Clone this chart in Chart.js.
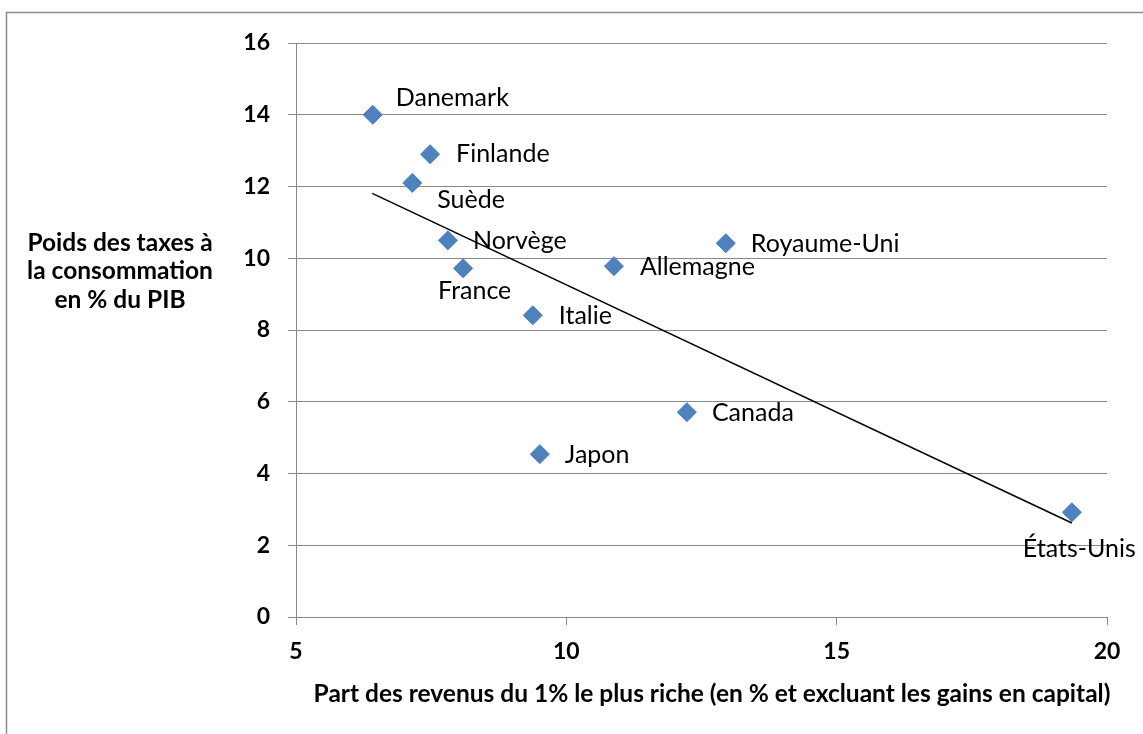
<!DOCTYPE html>
<html>
<head>
<meta charset="utf-8">
<script src="https://cdn.jsdelivr.net/npm/chart.js@4.4.0/dist/chart.umd.min.js"></script>
<style>
  html, body { margin: 0; padding: 0; background: #fff; }
  #wrap { width: 1143px; height: 734px; }
</style>
</head>
<body>
<div id="wrap"><canvas id="chart" width="1143" height="734"></canvas></div>
<script>
// Data
const countries = ["Danemark", "Finlande", "Suède", "Norvège", "France", "Italie",
                   "Allemagne", "Royaume-Uni", "Canada", "Japon", "États-Unis"];
const topShare = [6.42, 7.48, 7.15, 7.81, 8.09, 9.38, 10.88, 12.95, 12.23, 9.51, 19.35];
const consTax  = [14.0, 12.9, 12.1, 10.5, 9.72, 8.41, 9.78, 10.42, 5.71, 4.54, 2.92];

// trend line end points
const trendX = [6.41, 19.35];
const trendY = [11.81, 2.62];

const xTicks = [5, 10, 15, 20];
const yTicks = [0, 2, 4, 6, 8, 10, 12, 14, 16];

const yTitle = ["Poids des taxes à", "la consommation", "en % du PIB"];
const xTitle = "Part des revenus du 1% le plus riche (en % et excluant les gains en capital)";

// label offsets in px from the marker (left edge of text, middle)
const labelOffset = {
  "Danemark": [23, -17], "Finlande": [26, 0], "Suède": [25, 17], "Norvège": [25, 1],
  "France": [-25, 23], "Italie": [26, 1], "Allemagne": [26, 1], "Royaume-Uni": [25, 1],
  "Canada": [25, 1], "Japon": [25, 1], "États-Unis": [-49, 37]
};

const FONT = "Lato, 'Open Sans', sans-serif";

const extras = {
  id: "extras",
  afterDatasetsDraw(chart) {
    const ctx = chart.ctx;
    const meta = chart.getDatasetMeta(0);
    ctx.save();
    ctx.fillStyle = "#000";
    ctx.font = "25px " + FONT;
    ctx.textAlign = "left";
    ctx.textBaseline = "middle";
    meta.data.forEach((pt, i) => {
      const off = labelOffset[countries[i]];
      ctx.fillText(countries[i], pt.x + off[0], pt.y + off[1]);
    });
    ctx.restore();
  },
  afterDraw(chart) {
    const ctx = chart.ctx;
    ctx.save();
    // outer frame
    ctx.strokeStyle = "#8c8c8c";
    ctx.lineWidth = 1.5;
    ctx.beginPath();
    ctx.moveTo(6.5, 740);
    ctx.lineTo(6.5, 12.5);
    ctx.lineTo(1150, 12.5);
    ctx.stroke();
    // axis titles
    ctx.fillStyle = "#000";
    ctx.font = "bold 24.5px " + FONT;
    ctx.textAlign = "center";
    ctx.textBaseline = "middle";
    yTitle.forEach((t, i) => ctx.fillText(t, 120, 243 + i * 28.5));
    ctx.fillText(xTitle, 712, 694);
    ctx.restore();
  }
};

new Chart(document.getElementById("chart"), {
  type: "scatter",
  data: {
    datasets: [
      {
        label: "Pays",
        data: topShare.map((x, i) => ({ x: x, y: consTax[i] })),
        pointStyle: "rectRot",
        pointRadius: 9.5,
        pointHoverRadius: 9.5,
        backgroundColor: "#4f81bd",
        borderColor: "#4a7ebb",
        borderWidth: 1,
        order: 1
      },
      {
        label: "Tendance",
        type: "line",
        data: trendX.map((x, i) => ({ x: x, y: trendY[i] })),
        borderColor: "#000",
        borderWidth: 1.5,
        pointRadius: 0,
        fill: false,
        order: 2
      }
    ]
  },
  options: {
    responsive: false,
    animation: false,
    layout: { padding: { left: 0, right: 36, top: 43, bottom: 0 } },
    plugins: { legend: { display: false }, tooltip: { enabled: false } },
    scales: {
      x: {
        type: "linear",
        min: 5, max: 20,
        afterFit: s => { s.height = 117; },
        afterBuildTicks: s => { s.ticks = xTicks.map(v => ({ value: v })); },
        grid: { drawOnChartArea: false, drawTicks: true, tickLength: 8, color: "#888" },
        border: { color: "#888", width: 1 },
        ticks: { color: "#000", font: { family: FONT, size: 23, weight: "bold" }, padding: 13, maxRotation: 0 }
      },
      y: {
        min: 0, max: 16,
        afterFit: s => { s.width = 296; },
        afterBuildTicks: s => { s.ticks = yTicks.map(v => ({ value: v })); },
        grid: { color: "#888", lineWidth: 1, tickLength: 8 },
        border: { color: "#888", width: 1 },
        ticks: { color: "#000", font: { family: FONT, size: 23, weight: "bold" }, padding: 18 }
      }
    }
  },
  plugins: [extras]
});
</script>
</body>
</html>
